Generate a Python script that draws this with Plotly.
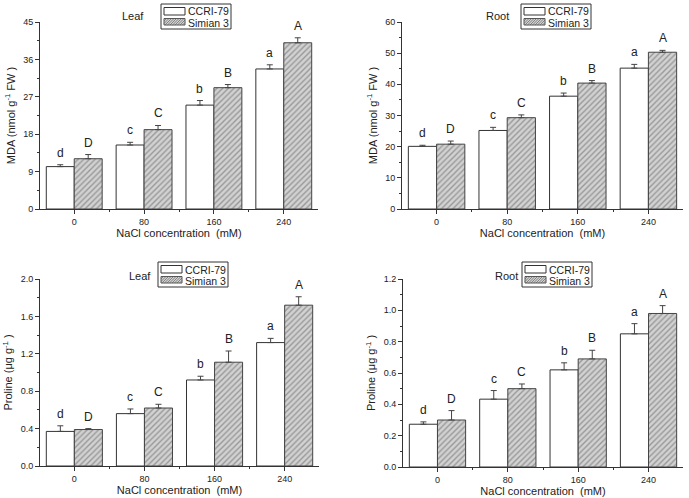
import plotly.graph_objects as go

categories = ["0", "80", "160", "240"]
series_names = ["CCRI-79", "Simian 3"]

mda_leaf_ccri = [10.2, 15.4, 25.0, 33.7]
mda_leaf_ccri_err = [0.45, 0.65, 1.1, 1.0]
mda_leaf_sim = [12.1, 19.1, 29.2, 40.0]
mda_leaf_sim_err = [1.0, 1.0, 0.75, 1.2]

mda_root_ccri = [20.1, 25.2, 36.2, 45.2]
mda_root_ccri_err = [0.35, 1.0, 1.0, 1.2]
mda_root_sim = [20.8, 29.3, 40.4, 50.3]
mda_root_sim_err = [1.0, 0.9, 0.8, 0.6]

pro_leaf_ccri = [0.37, 0.56, 0.92, 1.32]
pro_leaf_ccri_err = [0.06, 0.05, 0.04, 0.045]
pro_leaf_sim = [0.39, 0.62, 1.11, 1.72]
pro_leaf_sim_err = [0.01, 0.04, 0.12, 0.09]

pro_root_ccri = [0.273, 0.433, 0.62, 0.85]
pro_root_ccri_err = [0.015, 0.055, 0.045, 0.065]
pro_root_sim = [0.30, 0.50, 0.69, 0.98]
pro_root_sim_err = [0.06, 0.03, 0.055, 0.05]

letters_ccri = ["d", "c", "b", "a"]
letters_sim = ["D", "C", "B", "A"]

panel_titles = ["Leaf", "Root", "Leaf", "Root"]
y_titles = ["MDA (nmol g<sup>-1</sup> FW )", "MDA (nmol g<sup>-1</sup> FW )",
            "Proline (μg g<sup>-1</sup> )", "Proline (μg g<sup>-1</sup> )"]
x_title = "NaCl concentration\u00a0 (mM)"

W, H = 689, 498
FONT = "Liberation Sans, Arial, sans-serif"
TXT = "#222222"
LINE = "#333333"
HATCH_BG = "#d2d2d2"
HATCH_FG = "#5e5e5e"

panels = [
    dict(ccri=mda_leaf_ccri, ce=mda_leaf_ccri_err, sim=mda_leaf_sim, se=mda_leaf_sim_err,
         yr=[0, 45], dt=9, fmt="", px=(40, 318), py=(22, 209),
         leg=(161, 4), title=(133, 16)),
    dict(ccri=mda_root_ccri, ce=mda_root_ccri_err, sim=mda_root_sim, se=mda_root_sim_err,
         yr=[0, 60], dt=10, fmt="", px=(402, 683), py=(22, 209),
         leg=(521, 4), title=(497, 16)),
    dict(ccri=pro_leaf_ccri, ce=pro_leaf_ccri_err, sim=pro_leaf_sim, se=pro_leaf_sim_err,
         yr=[0, 2.0], dt=0.4, fmt=".1f", px=(40, 319), py=(279, 466),
         leg=(158, 262), title=(140, 276)),
    dict(ccri=pro_root_ccri, ce=pro_root_ccri_err, sim=pro_root_sim, se=pro_root_sim_err,
         yr=[0, 1.2], dt=0.2, fmt=".1f", px=(403, 683), py=(279, 467),
         leg=(522, 262), title=(506, 276)),
]


def px2paper(x, y):
    return x / W, 1 - y / H


def rect_shape(x0, y0, x1, y1, fill, line_color, width=1):
    a, b = px2paper(x0, y0)
    c, d = px2paper(x1, y1)
    return dict(type="rect", xref="paper", yref="paper", x0=a, y0=d, x1=c, y1=b,
                fillcolor=fill, line=dict(color=line_color, width=width), layer="above")


def hatch_path(x0, y0, x1, y1, step=2.5):
    h = y1 - y0
    parts = []
    k = x0 - h
    while k < x1:
        sx, sy = k, y1
        ex, ey = k + h, y0
        if sx < x0:
            sy = y1 - (x0 - sx)
            sx = x0
        if ex > x1:
            ey = y0 + (ex - x1)
            ex = x1
        if ex > sx:
            a, b = px2paper(sx, sy)
            c, d = px2paper(ex, ey)
            parts.append(f"M{a:.5f},{b:.5f}L{c:.5f},{d:.5f}")
        k += step
    return dict(type="path", xref="paper", yref="paper", path="".join(parts),
                line=dict(color=HATCH_FG, width=0.7), layer="above")


xpos = list(range(len(categories)))
fig = go.Figure()
annotations = []
shapes = []
layout = {}

for i, p in enumerate(panels):
    n = "" if i == 0 else str(i + 1)
    xa, ya = "x" + n, "y" + n
    fig.add_trace(go.Bar(
        x=xpos, y=p["ccri"], name=series_names[0], xaxis=xa, yaxis=ya,
        marker=dict(color="white", line=dict(color=LINE, width=1)),
        error_y=dict(type="data", symmetric=False, array=p["ce"], arrayminus=[0] * 4,
                     color="#444444", thickness=1, width=3),
        offsetgroup="a", showlegend=False))
    fig.add_trace(go.Bar(
        x=xpos, y=p["sim"], name=series_names[1], xaxis=xa, yaxis=ya,
        marker=dict(color=HATCH_BG, line=dict(color="#444444", width=1),
                    pattern=dict(shape="/", fgcolor=HATCH_FG, bgcolor=HATCH_BG,
                                 size=4, solidity=0.35)),
        error_y=dict(type="data", symmetric=False, array=p["se"], arrayminus=[0] * 4,
                     color="#444444", thickness=1, width=3),
        offsetgroup="b", showlegend=False))

    x0, x1 = p["px"]
    y0, y1 = p["py"]
    layout["xaxis" + n] = dict(
        domain=[x0 / W, x1 / W], anchor=ya, range=[-0.49, 3.49], automargin=False,
        tickmode="array", tickvals=xpos, ticktext=categories,
        ticks="outside", ticklen=4, tickcolor=LINE,
        minor=dict(tickvals=[0.5, 1.5, 2.5], ticks="outside", ticklen=2, tickcolor=LINE),
        showline=True, linecolor=LINE, linewidth=1, showgrid=False, zeroline=False,
        tickfont=dict(family=FONT, size=9, color=TXT),
        title=dict(text=x_title, font=dict(family=FONT, size=11, color=TXT), standoff=1),
    )
    layout["yaxis" + n] = dict(
        domain=[1 - y1 / H, 1 - y0 / H], anchor=xa, range=p["yr"], automargin=False,
        tickmode="linear", tick0=0, dtick=p["dt"], tickformat=p["fmt"],
        ticks="outside", ticklen=4, tickcolor=LINE,
        minor=dict(dtick=p["dt"] / 2, tick0=0, ticks="outside", ticklen=2, tickcolor=LINE),
        showline=True, linecolor=LINE, linewidth=1, showgrid=False, zeroline=False,
        tickfont=dict(family=FONT, size=9, color=TXT),
        title=dict(text=y_titles[i], font=dict(family=FONT, size=11, color=TXT), standoff=5),
    )

    # Legend box (drawn manually for exact sizing)
    lx, ly = p["leg"]
    shapes.append(rect_shape(lx, ly, lx + 70, ly + 25, "white", LINE))
    shapes.append(rect_shape(lx + 3, ly + 3.5, lx + 24, ly + 11, "white", LINE))
    shapes.append(rect_shape(lx + 3, ly + 14.5, lx + 24, ly + 21, HATCH_BG, "#555555"))
    shapes.append(hatch_path(lx + 3, ly + 14.5, lx + 24, ly + 21))
    for k, nm in enumerate(series_names):
        tx, ty = px2paper(lx + 25, ly + 7.5 + 11 * k)
        annotations.append(dict(
            text=nm, x=tx, y=ty, xref="paper", yref="paper", xanchor="left", yanchor="middle",
            showarrow=False, font=dict(family=FONT, size=10.5, color=TXT)))

    tx, ty = p["title"]
    a, b = px2paper(tx, ty)
    annotations.append(dict(
        text=panel_titles[i], x=a, y=b, xref="paper", yref="paper",
        xanchor="center", yanchor="middle",
        showarrow=False, font=dict(family=FONT, size=11, color=TXT)))

    for j in range(len(categories)):
        annotations.append(dict(
            text=letters_ccri[j], x=j - 0.2, y=p["ccri"][j] + p["ce"][j], xref=xa, yref=ya,
            xanchor="center", showarrow=False, yanchor="bottom", yshift=3,
            font=dict(family=FONT, size=12, color=TXT)))
        annotations.append(dict(
            text=letters_sim[j], x=j + 0.2, y=p["sim"][j] + p["se"][j], xref=xa, yref=ya,
            xanchor="center", showarrow=False, yanchor="bottom", yshift=3,
            font=dict(family=FONT, size=12, color=TXT)))

fig.update_layout(
    width=W, height=H, margin=dict(l=0, r=0, t=0, b=0, autoexpand=False),
    paper_bgcolor="white", plot_bgcolor="white",
    barmode="group", bargap=0.2, bargroupgap=0,
    annotations=annotations, shapes=shapes,
    font=dict(family=FONT), showlegend=False,
    **layout,
)

fig.write_html("out.html", config={"displayModeBar": False},
               post_script="document.body.style.margin='0px';")
